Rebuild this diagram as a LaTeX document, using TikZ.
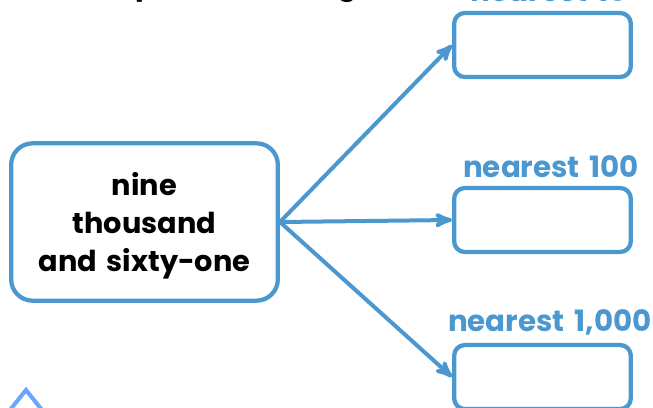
\documentclass[tikz,border=0pt]{standalone}
\usepackage{fontspec}
\setmainfont{Poppins}[WordSpace=1.6]
\usetikzlibrary{arrows}
\definecolor{lineblue}{HTML}{4A98CF}
\definecolor{markblue}{HTML}{6AA5FF}

\begin{document}
\begin{tikzpicture}[x=0.75pt,y=-0.75pt,->,>=stealth',auto,
	very thick,main node/.style={rectangle,rounded corners=16pt,draw=lineblue,line width=3.2pt,
		minimum width=200pt,minimum height=118pt},
	text node/.style={font=\fontsize{21.6}{28.5}\selectfont\bfseries,align=center},
	box node/.style={rectangle,rounded corners=8pt,draw=lineblue,line width=3.2pt,
		minimum width=132.5pt,minimum height=48pt},
	title node/.style={text=lineblue,font=\fontsize{22}{24}\selectfont\bfseries,inner sep=0pt},
	top node/.style={font=\fontsize{22}{24}\selectfont\bfseries,inner sep=0pt}]
	
	\clip (0,0) rectangle (653,407);
	\useasboundingbox (0,0) rectangle (653,407);
	
	\node[main node] (A) at (144.5,222) {};
	\node[text node] (a) [below of=A,node distance=2.5pt] {nine\\thousand\\and sixty-one};
	\node[box node] (C) at (542.5,220) {};
	\node[box node] (B) [above of=C,node distance=131.25pt] {};
	\node[box node] (D) [below of=C,node distance=117.75pt] {};
	
	\node[title node] (c) [above of=C,node distance=39.75pt,xshift=6.5pt] {nearest 100};
	\node[title node] (b) [above of=B,node distance=40.5pt,xshift=5pt] {nearest 10};
	\node[title node] (d) [above of=D,node distance=41.25pt,xshift=5.5pt] {nearest 1,000};
	
	% tails of the cut off line at the top
	\node[top node] (p) at (145,-10) {p};
	\node[top node] (g) at (347,-10) {g};
	
	\path[every edge/.append style={draw=lineblue,line width=3pt}]
	(A.east) edge (B.west)
	(A.east) edge (C.west)
	(A.east) edge (D.west);
	
	\draw[-,draw=markblue,line width=3pt] (10,410) -- (26,390) -- (42,410);
\end{tikzpicture}
\end{document}
